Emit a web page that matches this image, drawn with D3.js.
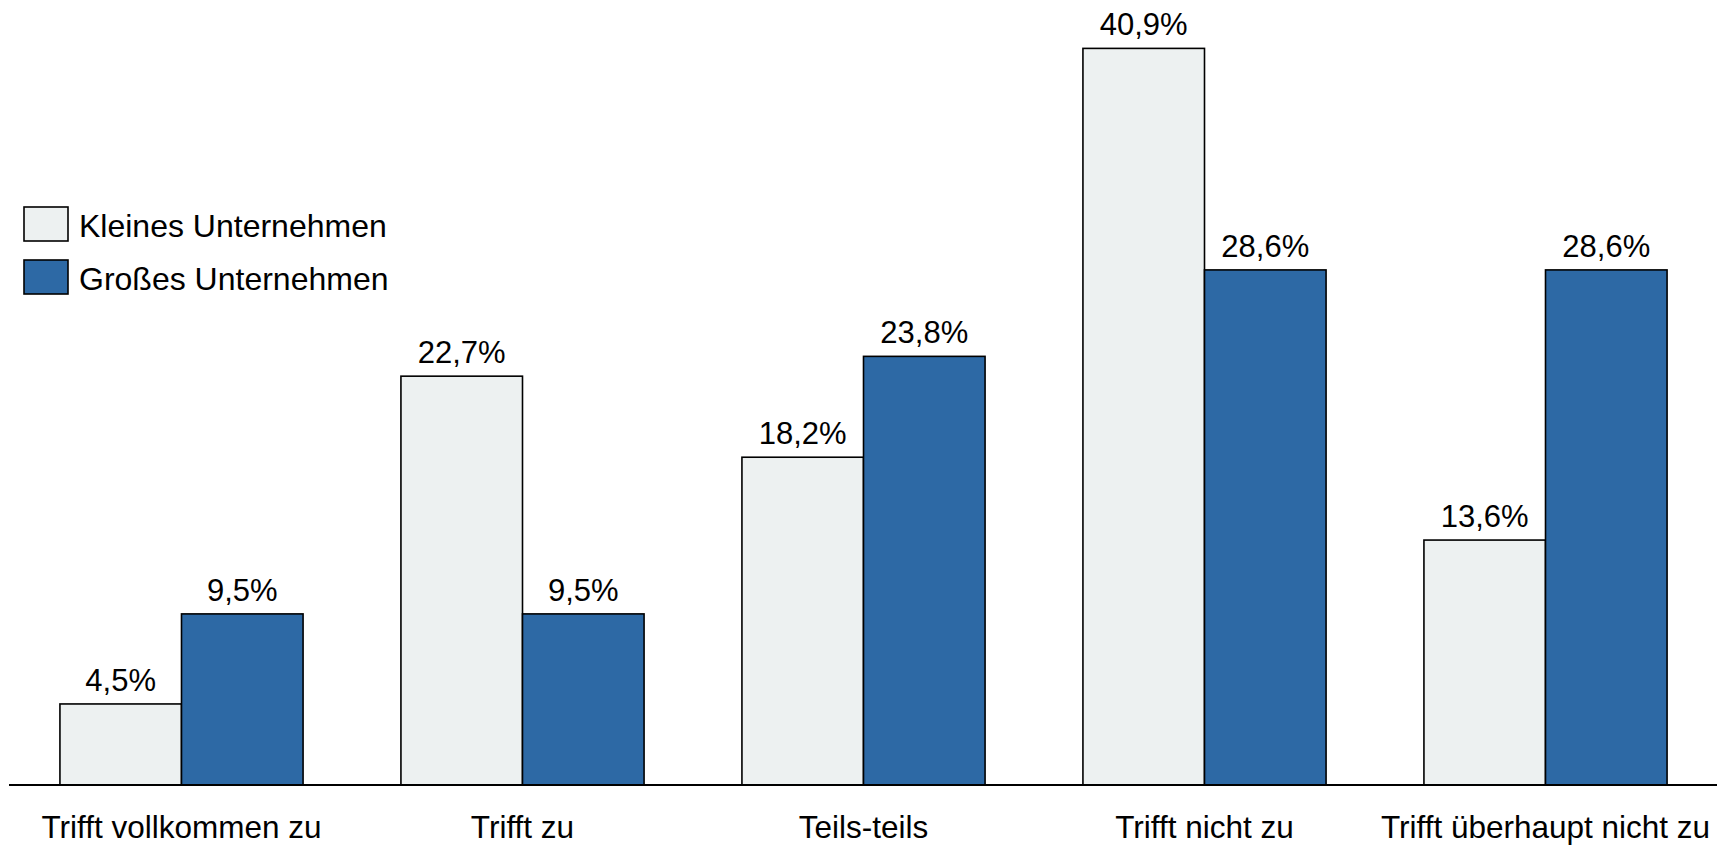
<!DOCTYPE html>
<html>
<head>
<meta charset="utf-8">
<script src="https://cdn.jsdelivr.net/npm/d3@7"></script>
<style>
  html, body { margin: 0; padding: 0; background: #fff; }
  svg { display: block; }
  text { font-family: "Liberation Sans", Arial, Helvetica, sans-serif; fill: #000; }
</style>
</head>
<body>
<svg id="chart" width="1726" height="845"></svg>
<script>
const categories = ["Trifft vollkommen zu", "Trifft zu", "Teils-teils", "Trifft nicht zu", "Trifft überhaupt nicht zu"];
const seriesNames = ["Kleines Unternehmen", "Großes Unternehmen"];
const kleines = [4.5, 22.7, 18.2, 40.9, 13.6];
const grosses = [9.5, 9.5, 23.8, 28.6, 28.6];
const seriesColors = ["#edf1f1", "#2d69a5"];

const svg = d3.select("#chart");
const baseline = 785;

const x = d3.scaleBand().domain(categories).range([11, 1716]).paddingInner(0.287).paddingOuter(0.1435);
const xs = d3.scaleBand().domain(seriesNames).range([0, x.bandwidth()]);
const y = d3.scaleLinear().domain([0, 41]).range([baseline, baseline - 41 * 18.01]);

const data = categories.map((c, i) => ({ cat: c, vals: [kleines[i], grosses[i]] }));

const fmt = v => d3.format(".1f")(v).replace(".", ",") + "%";

const groups = svg.append("g").selectAll("g").data(data).join("g")
  .attr("transform", d => `translate(${x(d.cat)},0)`);

groups.selectAll("rect").data(d => d.vals.map((v, j) => ({ v, s: seriesNames[j], j })))
  .join("rect")
  .attr("x", d => xs(d.s))
  .attr("y", d => y(d.v))
  .attr("width", xs.bandwidth())
  .attr("height", d => baseline - y(d.v))
  .attr("fill", d => seriesColors[d.j])
  .attr("stroke", "#000")
  .attr("stroke-width", 1.6);

groups.selectAll("text.val").data(d => d.vals.map((v, j) => ({ v, s: seriesNames[j] })))
  .join("text")
  .attr("class", "val")
  .attr("x", d => xs(d.s) + xs.bandwidth() / 2)
  .attr("y", d => y(d.v) - 13)
  .attr("text-anchor", "middle")
  .attr("font-size", 31)
  .text(d => fmt(d.v));

// x axis line
const xAxis = d3.axisBottom(x).tickSize(0).tickPadding(31);
const ax = svg.append("g").attr("transform", `translate(0,${baseline})`).call(xAxis);
ax.select(".domain").attr("d", "M9,0H1717").attr("stroke", "#000").attr("stroke-width", 2.2);
ax.selectAll(".tick text").attr("font-size", 31.5).attr("font-family", "Liberation Sans, Arial, sans-serif").attr("fill", "#000");

// legend
const legend = svg.append("g").attr("transform", "translate(24,207)");
const li = legend.selectAll("g").data(seriesNames).join("g")
  .attr("transform", (d, i) => `translate(0,${i * 53})`);
li.append("rect").attr("width", 44).attr("height", 34)
  .attr("fill", (d, i) => seriesColors[i]).attr("stroke", "#000").attr("stroke-width", 1.6);
li.append("text").attr("x", 55).attr("y", 30).attr("font-size", 32).text(d => d);
</script>
</body>
</html>
